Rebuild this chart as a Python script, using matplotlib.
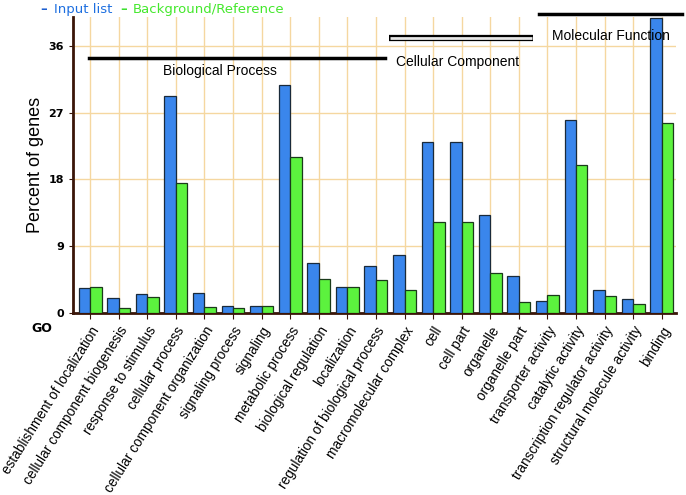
import numpy as np
import matplotlib
matplotlib.use("Agg")
from matplotlib import pyplot as plt

categories = [
    "establishment of localization", "cellular component biogenesis",
    "response to stimulus", "cellular process",
    "cellular component organization", "signaling process", "signaling",
    "metabolic process", "biological regulation", "localization",
    "regulation of biological process", "macromolecular complex", "cell",
    "cell part", "organelle", "organelle part", "transporter activity",
    "catalytic activity", "transcription regulator activity",
    "structural molecule activity", "binding",
]
input_list = [3.4, 2.0, 2.5, 29.2, 2.75, 1.0, 1.0, 30.7, 6.8, 3.5, 6.4,
              7.8, 23.0, 23.0, 13.2, 5.0, 1.65, 26.0, 3.1, 1.9, 39.7]
background = [3.55, 0.7, 2.1, 17.5, 0.8, 0.7, 1.0, 21.0, 4.6, 3.5, 4.45,
              3.1, 12.2, 12.2, 5.35, 1.45, 2.4, 20.0, 2.25, 1.15, 25.6]
y_ticks = [0, 9, 18, 27, 36]

BLUE = "#3a86ec"
GREEN = "#5cf23e"
GRID = "#f5d7a0"
AXIS = "#3a1508"


def plot_chart():
    fig = plt.figure(figsize=(6.86, 4.95), dpi=100)
    ax = fig.add_axes([73 / 686, 1 - 313 / 495, 603 / 686, 296 / 495])
    x = np.arange(len(categories))
    w = 0.4

    ax.bar(x - w / 2, input_list, w, color=BLUE, edgecolor="#1a2a3a", linewidth=0.9, zorder=3)
    ax.bar(x + w / 2, background, w, color=GREEN, edgecolor="#1a3a1a", linewidth=0.9, zorder=3)

    ax.set_xlim(-0.6, 20.5)
    ax.set_ylim(0, 39.9)
    for xi in x:
        ax.axvline(xi, color=GRID, linewidth=1, zorder=0)
    for yt in y_ticks[1:]:
        ax.axhline(yt, color=GRID, linewidth=1, zorder=0)

    for s in ["top", "right"]:
        ax.spines[s].set_visible(False)
    ax.spines["left"].set_color(AXIS)
    ax.spines["left"].set_linewidth(2)
    ax.spines["bottom"].set_color(AXIS)
    ax.spines["bottom"].set_linewidth(2)

    ax.set_yticks(y_ticks)
    ax.set_yticklabels([str(v) for v in y_ticks], fontsize=8, fontweight="bold")
    ax.tick_params(axis="y", length=3, color=AXIS)
    ax.set_xticks(x)
    ax.set_xticklabels(categories, rotation=58, ha="right", rotation_mode="anchor",
                       fontsize=9.8, family="Liberation Sans")
    ax.tick_params(axis="x", length=4, color=AXIS, pad=4)
    ax.set_ylabel("Percent of genes", fontsize=13, family="Liberation Sans", labelpad=3)

    fig.text(31 / 686, 1 - 328 / 495, "GO", fontsize=9, fontweight="bold", va="center")

    # category brackets
    ax.plot([-0.05, 10.3], [34.4, 34.4], color="black", linewidth=2.5, clip_on=False, zorder=4)
    ax.text(2.55, 32.6, "Biological Process", fontsize=10, family="Liberation Sans", va="center")
    ax.plot([10.45, 15.5], [37.1, 37.1], color="black", linewidth=4.5, clip_on=False,
            zorder=4, solid_capstyle="butt")
    ax.plot([10.5, 15.45], [37.1, 37.1], color="#e6e6e6", linewidth=2, clip_on=False,
            zorder=5, solid_capstyle="butt")
    ax.text(10.7, 33.8, "Cellular Component", fontsize=10, family="Liberation Sans", va="center")
    ax.plot([15.7, 20.7], [40.3, 40.3], color="black", linewidth=2.5, clip_on=False, zorder=4)
    ax.text(16.15, 37.3, "Molecular Function", fontsize=10, family="Liberation Sans", va="center")

    # legend
    fig.text(40 / 686, 1 - 10 / 495, "\u2013", color="#1d5fd0", fontsize=9.5, fontweight="bold", va="center")
    fig.text(54 / 686, 1 - 10 / 495, "Input list", color="#1d6fe0", fontsize=9.5, va="center")
    fig.text(120 / 686, 1 - 10 / 495, "\u2013", color="#3ee030", fontsize=9.5, fontweight="bold", va="center")
    fig.text(133 / 686, 1 - 10 / 495, "Background/Reference", color="#44e82c", fontsize=9.5, va="center")

    fig.savefig("out.png", dpi=100)


plot_chart()
